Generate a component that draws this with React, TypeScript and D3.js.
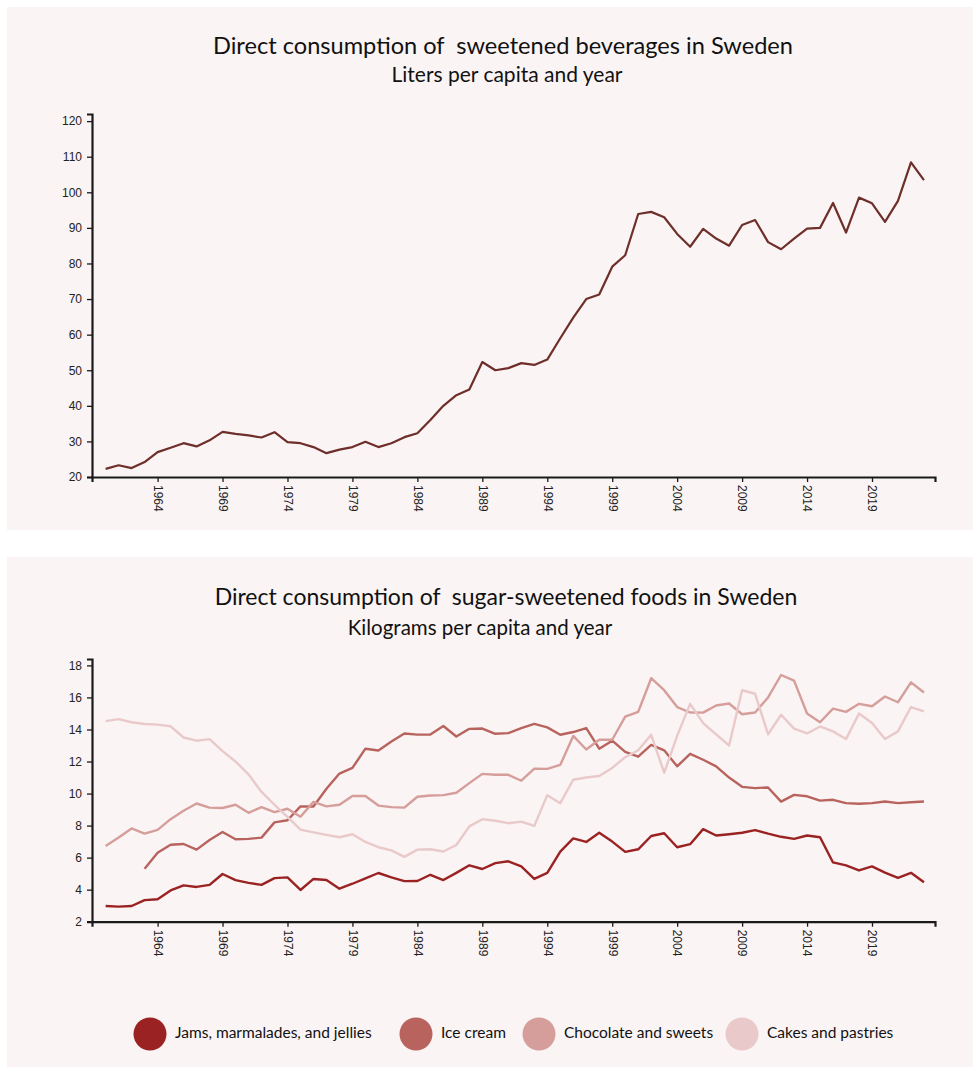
import { useEffect, useRef } from 'react';
import * as d3 from 'd3';

const years = d3.range(1960, 2024);

const beverages = [
  22.3, 23.3, 22.5, 24.2, 27.0, 28.2, 29.5, 28.6, 30.3, 32.7,
  32.1, 31.7, 31.1, 32.6, 29.8, 29.5, 28.4, 26.7, 27.7, 28.4,
  29.9, 28.4, 29.5, 31.2, 32.3, 36.0, 40.0, 43.0, 44.6, 52.3,
  50.0, 50.6, 52.0, 51.5, 53.0, 59.0, 64.8, 70.0, 71.3, 79.1,
  82.3, 93.9, 94.5, 93.0, 88.3, 84.7, 89.7, 87.0, 85.0, 90.8,
  92.2, 86.0, 84.0, 87.0, 89.8, 90.0, 97.0, 88.7, 98.5, 96.9,
  91.7, 97.6, 108.4, 103.4,
];

const jams = [
  2.98, 2.94, 2.98, 3.35, 3.4, 3.95, 4.27, 4.17, 4.3, 4.98,
  4.6, 4.42, 4.3, 4.72, 4.77, 3.98, 4.67, 4.6, 4.06, 4.37,
  4.71, 5.04, 4.77, 4.53, 4.54, 4.93, 4.6, 5.05, 5.52, 5.29,
  5.66, 5.77, 5.45, 4.67, 5.05, 6.38, 7.2, 6.98, 7.55, 7.0,
  6.36, 6.52, 7.35, 7.52, 6.65, 6.84, 7.78, 7.38, 7.46, 7.55,
  7.72, 7.5, 7.3, 7.17, 7.38, 7.27, 5.7, 5.52, 5.2, 5.45,
  5.06, 4.73, 5.05, 4.46,
];

const iceCream = [
  null, null, null, 5.31, 6.3, 6.8, 6.85, 6.5, 7.1, 7.6,
  7.15, 7.17, 7.25, 8.2, 8.33, 9.2, 9.19, 10.3, 11.25, 11.6,
  12.8, 12.69, 13.25, 13.75, 13.68, 13.69, 14.22, 13.56, 14.04, 14.06,
  13.73, 13.77, 14.09, 14.35, 14.13, 13.67, 13.84, 14.09, 12.8, 13.3,
  12.6, 12.3, 13.04, 12.7, 11.7, 12.48, 12.11, 11.7, 11.0, 10.42,
  10.34, 10.38, 9.5, 9.92, 9.83, 9.56, 9.61, 9.4, 9.36, 9.4,
  9.5, 9.4, 9.46, 9.5,
];

const chocolate = [
  6.73, 7.25, 7.82, 7.5, 7.73, 8.4, 8.93, 9.38, 9.12, 9.1,
  9.3, 8.8, 9.15, 8.84, 9.05, 8.55, 9.48, 9.2, 9.3, 9.85,
  9.85, 9.25, 9.15, 9.12, 9.8, 9.88, 9.9, 10.05, 10.65, 11.23,
  11.17, 11.17, 10.8, 11.55, 11.54, 11.79, 13.6, 12.75, 13.36, 13.36,
  14.8, 15.1, 17.2, 16.45, 15.4, 15.06, 15.05, 15.5, 15.62, 14.95,
  15.06, 16.0, 17.4, 17.05, 15.0, 14.45, 15.3, 15.1, 15.6, 15.45,
  16.06, 15.7, 16.94, 16.31,
];

const cakes = [
  14.52, 14.65, 14.45, 14.34, 14.3, 14.2, 13.5, 13.3, 13.4, 12.65,
  12.0, 11.2, 10.1, 9.3, 8.55, 7.75, 7.58, 7.42, 7.27, 7.46,
  6.98, 6.65, 6.45, 6.05, 6.5, 6.52, 6.38, 6.79, 7.95, 8.4,
  8.3, 8.15, 8.25, 7.98, 9.9, 9.4, 10.86, 11.0, 11.1, 11.6,
  12.27, 12.7, 13.67, 11.3, 13.6, 15.6, 14.4, 13.7, 13.0, 16.45,
  16.23, 13.7, 14.92, 14.05, 13.75, 14.19, 13.88, 13.4, 15.0, 14.4,
  13.4, 13.88, 15.4, 15.13,
];

const xTickYears = [1964, 1969, 1974, 1979, 1984, 1989, 1994, 1999, 2004, 2009, 2014, 2019];
const topYTicks = [20, 30, 40, 50, 60, 70, 80, 90, 100, 110, 120];
const bottomYTicks = [2, 4, 6, 8, 10, 12, 14, 16, 18];

const seriesNames = ['Jams, marmalades, and jellies', 'Ice cream', 'Chocolate and sweets', 'Cakes and pastries'];
const seriesColors = ['#9b2222', '#b8635e', '#d69e9a', '#e9c9c9'];

const handFont = 'Lato, "Open Sans", sans-serif';
const tickFont = '"Liberation Sans", Arial, sans-serif';

export default function App() {
  const svgRef = useRef<SVGSVGElement>(null);

  useEffect(() => {
    if (!svgRef.current) return;
    const svg = d3.select(svgRef.current);
    svg.selectAll('*').remove();

    // panels
    svg.append('rect').attr('x', 7).attr('y', 7).attr('width', 966).attr('height', 523).attr('fill', '#faf4f4');
    svg.append('rect').attr('x', 7).attr('y', 557).attr('width', 966).attr('height', 510).attr('fill', '#faf4f4');

    const xScale = d3.scaleLinear().domain([1958.95, 2023.85]).range([92, 935]);

    const drawAxes = (y: d3.ScaleLinear<number, number>, ticks: number[], baseY: number) => {
      const gy = svg.append('g').attr('transform', 'translate(92,0)')
        .call(d3.axisLeft(y).tickValues(ticks).tickSizeOuter(0).tickSize(5).tickPadding(5));
      gy.select('.domain').attr('stroke', '#1a1a1a').attr('stroke-width', 2.2);
      gy.selectAll('.tick line').attr('stroke', '#1a1a1a').attr('stroke-width', 1.3);
      gy.selectAll('.tick text').attr('font-family', tickFont).attr('font-size', 12).attr('fill', '#222');

      const gx = svg.append('g').attr('transform', `translate(0,${baseY})`)
        .call(d3.axisBottom(xScale).tickValues(xTickYears).tickFormat((d) => String(d)).tickSizeOuter(0).tickSize(5));
      gx.select('.domain').attr('stroke', '#1a1a1a').attr('stroke-width', 2.2);
      gx.selectAll('.tick line').attr('stroke', '#1a1a1a').attr('stroke-width', 1.3);
      gx.selectAll('.tick text')
        .attr('font-family', tickFont).attr('font-size', 12).attr('fill', '#222')
        .attr('transform', 'rotate(90)')
        .attr('text-anchor', 'start')
        .attr('x', 8).attr('y', 0).attr('dy', '0.35em');
    };

    // top chart
    const yTop = d3.scaleLinear().domain([20, 122]).range([477, 114]);
    drawAxes(yTop, topYTicks, 477);

    const lineTop = d3.line<number>()
      .x((_, i) => xScale(years[i]))
      .y((d) => yTop(d));
    svg.append('path').datum(beverages)
      .attr('fill', 'none').attr('stroke', '#6e2f2a').attr('stroke-width', 2.2)
      .attr('stroke-linejoin', 'round').attr('d', lineTop);

    // bottom chart
    const yBot = d3.scaleLinear().domain([2, 18.4]).range([921.7, 659]);
    drawAxes(yBot, bottomYTicks, 921.7);

    const lineBot = d3.line<number | null>()
      .defined((d) => d != null)
      .x((_, i) => xScale(years[i]))
      .y((d) => yBot(d as number));
    [jams, iceCream, chocolate, cakes].forEach((s, i) => {
      svg.append('path').datum(s)
        .attr('fill', 'none').attr('stroke', seriesColors[i]).attr('stroke-width', 2.4)
        .attr('stroke-linejoin', 'round').attr('d', lineBot);
    });

    // titles
    const title = (text: string, x: number, y: number, size: number) =>
      svg.append('text').attr('x', x).attr('y', y).attr('text-anchor', 'middle')
        .attr('font-family', handFont).attr('font-size', size).attr('fill', '#111')
        .style('white-space', 'pre').text(text);
    title('Direct consumption of  sweetened beverages in Sweden', 503, 54, 23.6);
    title('Liters per capita and year', 507, 82, 21);
    title('Direct consumption of  sugar-sweetened foods in Sweden', 506, 605, 23);
    title('Kilograms per capita and year', 480, 635, 20.5);

    // legend
    const legendX = [150, 416, 539, 742];
    const legend = svg.append('g');
    seriesNames.forEach((name, i) => {
      legend.append('circle').attr('cx', legendX[i]).attr('cy', 1034).attr('r', 16.5).attr('fill', seriesColors[i]);
      legend.append('text').attr('x', legendX[i] + 25).attr('y', 1038)
        .attr('font-family', handFont).attr('font-size', 15.5).attr('fill', '#111').text(name);
    });
  }, []);

  return (
    <svg ref={svgRef} width={980} height={1075} style={{ position: 'absolute', left: 0, top: 0, background: '#fff' }} />
  );
}
